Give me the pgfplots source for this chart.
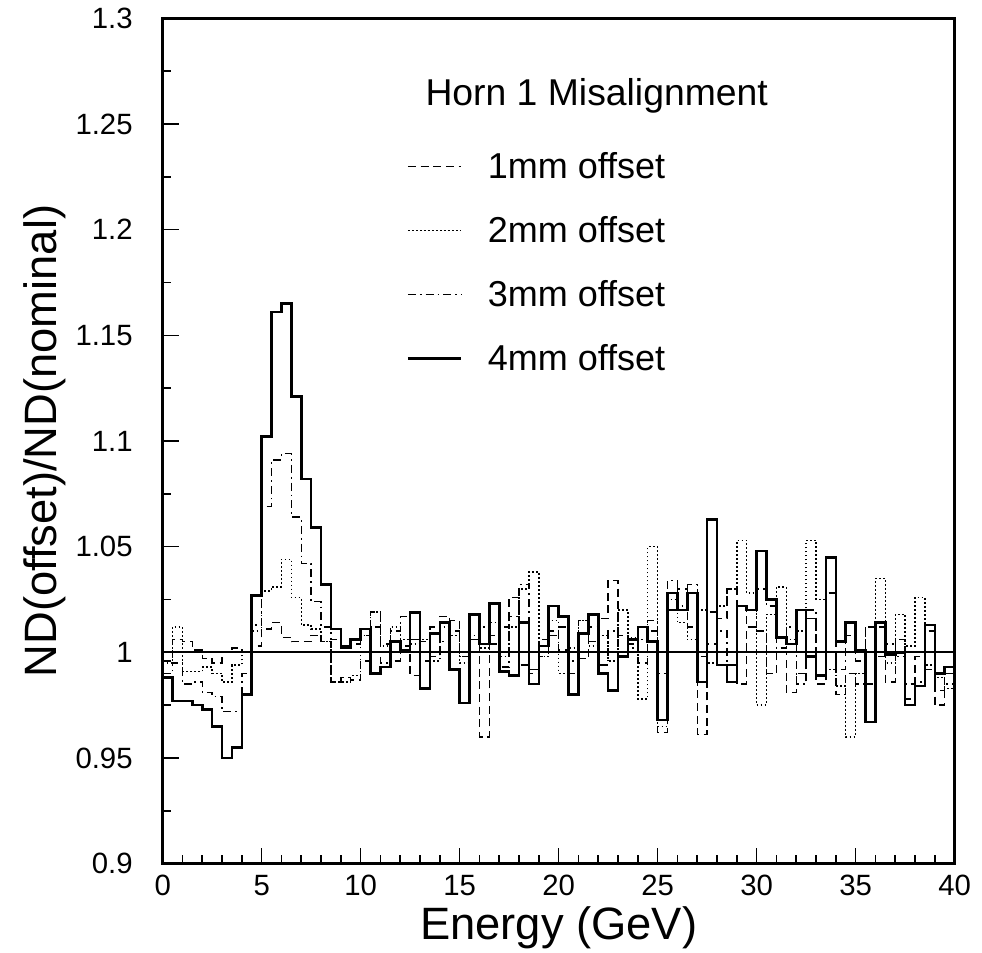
\documentclass[border=0pt]{standalone}
\usepackage{fontspec}
\setmainfont{Liberation Sans}
\usepackage{pgfplots}
\usepackage{pgfplotstable}
\pgfplotsset{compat=1.18}

% bin left edges (GeV) and ratio for 1,2,3,4 mm offsets; last row closes the last bin
\pgfplotstableread{
E    d1    d2    d3    d4
0.0  0.996 0.995 0.990 0.988
0.5  1.006 1.012 0.995 0.977
1.0  1.005 0.991 0.985 0.977
1.5  1.001 0.991 0.986 0.975
2.0  0.997 0.993 0.981 0.973
2.5  0.995 0.990 0.979 0.965
3.0  1.000 0.986 0.972 0.950
3.5  1.002 0.994 0.972 0.955
4.0  1.000 1.000 0.990 0.980
4.5  1.003 1.010 1.013 1.027
5.0  1.011 1.029 1.069 1.102
5.5  1.014 1.031 1.091 1.161
6.0  1.007 1.044 1.094 1.165
6.5  1.005 1.026 1.064 1.121
7.0  1.005 1.013 1.042 1.082
7.5  1.008 1.011 1.024 1.059
8.0  1.005 1.005 1.012 1.032
8.5  0.986 0.986 1.006 1.011
9.0  0.988 0.986 1.003 1.002
9.5  0.987 0.989 1.004 1.006
10.0 0.996 1.008 1.008 1.011
10.5 1.019 1.019 1.012 0.990
11.0 1.004 1.003 0.995 0.993
11.5 0.996 1.012 1.010 1.005
12.0 1.003 1.006 1.017 1.001
12.5 0.989 1.004 1.006 1.019
13.0 1.005 1.006 0.996 0.983
13.5 0.998 0.996 1.012 1.009
14.0 1.017 1.012 1.005 1.014
14.5 1.015 1.008 1.010 0.992
15.0 0.998 0.995 0.998 0.976
15.5 1.006 1.006 1.008 1.018
16.0 0.960 1.002 1.012 1.004
16.5 1.008 1.014 1.004 1.023
17.0 1.012 0.998 0.993 0.991
17.5 1.026 1.012 1.017 0.989
18.0 0.994 1.030 1.032 1.014
18.5 0.990 1.038 0.992 0.985
19.0 1.006 0.998 0.998 1.003
19.5 1.010 1.015 1.008 1.022
20.0 1.001 0.990 1.012 1.017
20.5 0.990 1.002 0.996 0.980
21.0 0.997 1.015 1.015 1.009
21.5 1.012 1.003 1.005 1.018
22.0 1.016 1.008 0.994 0.990
22.5 1.034 0.996 1.010 0.982
23.0 0.998 1.020 1.008 0.998
23.5 1.004 1.007 1.002 1.006
24.0 0.995 0.978 1.006 1.012
24.5 1.010 1.050 1.015 1.005
25.0 0.962 0.965 0.990 0.968
25.5 1.020 1.025 1.034 1.028
26.0 1.030 1.014 1.022 1.020
26.5 1.012 1.006 1.032 1.028
27.0 0.961 1.020 0.998 0.986
27.5 1.004 0.995 1.019 1.063
28.0 1.016 1.022 1.010 0.994
28.5 1.030 1.030 0.994 0.986
29.0 0.985 1.053 1.022 1.022
29.5 1.012 1.028 1.012 1.020
30.0 1.010 0.975 1.030 1.048
30.5 0.990 1.018 1.022 1.025
31.0 1.000 1.031 1.002 1.007
31.5 0.981 1.006 1.012 1.004
32.0 0.990 1.010 0.985 1.020
32.5 1.016 1.053 1.020 0.998
33.0 0.985 1.025 1.000 0.989
33.5 1.000 0.992 1.028 1.045
34.0 0.980 0.984 0.992 1.005
34.5 0.990 0.960 1.008 1.014
35.0 0.985 0.990 0.996 1.001
35.5 1.012 1.012 0.985 0.967
36.0 0.998 1.035 1.012 1.014
36.5 0.986 0.995 1.004 0.999
37.0 1.006 1.018 0.998 1.000
37.5 0.978 1.003 0.985 0.975
38.0 0.998 1.026 0.986 0.984
38.5 0.992 0.994 1.010 1.013
39.0 0.975 0.988 0.982 0.990
39.5 0.990 0.983 0.985 0.993
40.0 0.990 0.983 0.985 0.993
}\ratios

\begin{document}
\begin{tikzpicture}
\begin{axis}[
  scale only axis,
  width=594pt, height=634pt,
  xmin=0, xmax=40, ymin=0.9, ymax=1.3,
  axis line style={line width=2pt},
  tick pos=left,
  tick align=inside,
  xtick={0,5,...,40}, minor x tick num=4,
  ytick={0.9,0.95,1,1.05,1.1,1.15,1.2,1.25,1.3}, minor y tick num=1,
  yticklabels={0.9,0.95,1,1.05,1.1,1.15,1.2,1.25,1.3},
  major tick length=12pt, minor tick length=6.5pt,
  tick style={line width=1.2pt, black},
  /pgf/number format/assume math mode=true,
  ticklabel style={font=\fontsize{22}{25}\selectfont},
  yticklabel style={xshift=-19pt},
  xticklabel style={yshift=-5pt},
  xlabel={Energy (GeV)},
  ylabel={ND(offset)/ND(nominal)},
  label style={font=\fontsize{34}{38}\selectfont},
  xlabel style={yshift=-1pt},
  ylabel style={yshift=0pt},
  title={Horn 1 Misalignment},
  title style={at={(0.548,0.899)}, anchor=center, font=\fontsize{28}{32}\selectfont},
  legend style={at={(0.3025,0.848)}, anchor=north west, draw=none, fill=none,
    font=\fontsize{27}{30}\selectfont, row sep=23pt,
    nodes={inner xsep=19pt}, cells={anchor=west}},
  legend image code/.code={\draw[#1] (0pt,0pt) -- (40pt,0pt);},
  legend cell align=left,
]
\addplot[black, line width=1.1pt, dash pattern=on 6pt off 3.5pt, const plot] table[x=E, y=d1] {\ratios};
\addlegendentry{1mm offset}
\addplot[black, line width=1.1pt, dash pattern=on 1.3pt off 1.7pt, const plot] table[x=E, y=d2] {\ratios};
\addlegendentry{2mm offset}
\addplot[black, line width=1.1pt, dash pattern=on 6pt off 3pt on 1.3pt off 3pt, const plot] table[x=E, y=d3] {\ratios};
\addlegendentry{3mm offset}
\addplot[black, line width=2pt, const plot] table[x=E, y=d4] {\ratios};
\addlegendentry{4mm offset}
\addplot[black, line width=1.6pt, forget plot] coordinates {(0,1) (40,1)};
\coordinate (lo) at (rel axis cs:0,0);
\end{axis}
\path[use as bounding box] ([shift={(-122pt,-58pt)}]lo) rectangle ++(736.5pt,705.75pt);
\end{tikzpicture}
\end{document}
